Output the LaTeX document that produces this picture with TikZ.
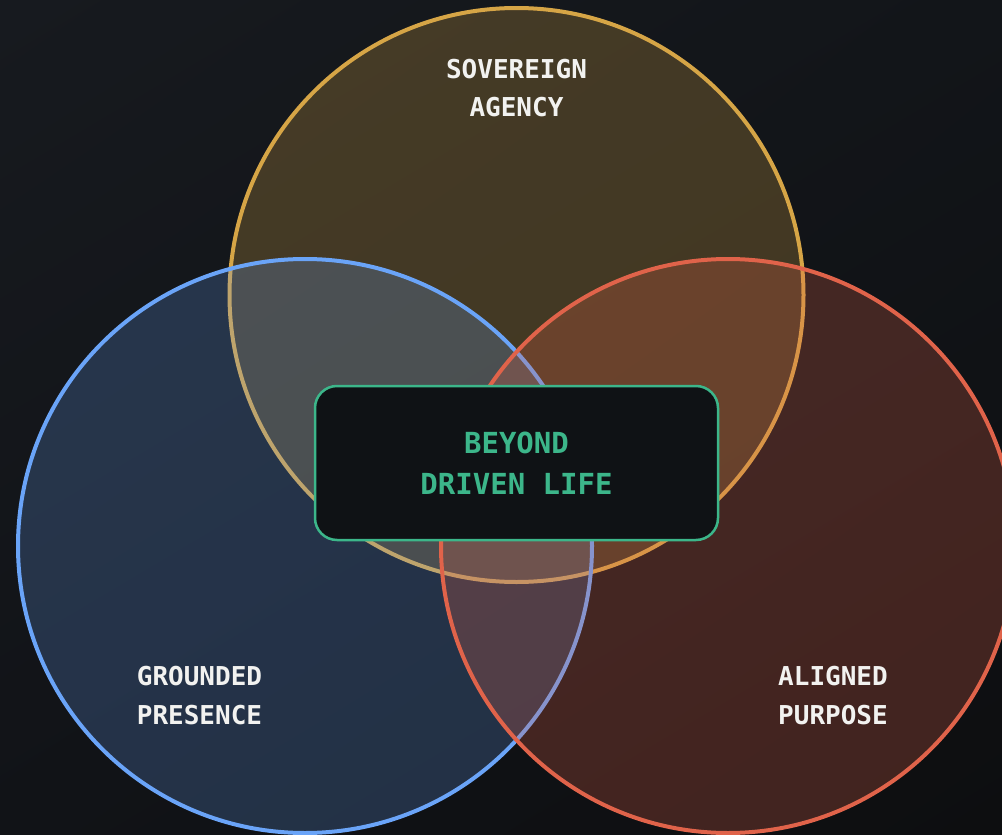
\documentclass[tikz,border=0pt]{standalone}
\usepackage{fontspec}
\usetikzlibrary{shadings}
\newfontfamily\labelfont{DejaVu Sans Mono}[BoldFont={DejaVu Sans Mono Bold}]
\definecolor{bgA}{HTML}{171A1F}
\definecolor{bgB}{HTML}{121519}
\definecolor{bgC}{HTML}{111317}
\definecolor{bgD}{HTML}{0D0E10}
\definecolor{goldc}{HTML}{D6A546}
\definecolor{bluec}{HTML}{6AA4F8}
\definecolor{redc}{HTML}{E0634A}
\definecolor{greenc}{HTML}{3CB68A}
\definecolor{boxfill}{HTML}{0F1215}
\definecolor{labelc}{HTML}{F2F2F0}
\tikzset{
  venn/.style={line width=4pt, fill opacity=0.25, draw opacity=1},
  lbl/.style={text=labelc, font=\labelfont\bfseries\fontsize{26}{38.5}\selectfont, align=center, inner sep=0pt},
  centerbox/.style={draw=greenc, line width=2.5pt, fill=boxfill, rounded corners=22pt, minimum width=403pt, minimum height=154pt, inner sep=0pt},
  centerlbl/.style={text=greenc, font=\labelfont\bfseries\fontsize{29}{41}\selectfont, align=center, inner sep=0pt}
}
\begin{document}
\begin{tikzpicture}[x=1pt,y=-1pt]
\useasboundingbox (0,0) rectangle (1002,835);
\clip (0,0) rectangle (1002,835);
\shade[upper left=bgA, upper right=bgB, lower left=bgC, lower right=bgD] (0,0) rectangle (1002,835);
\coordinate (cg) at (516.5,295);
\coordinate (cb) at (305,546);
\coordinate (cr) at (728,546);
\draw[venn, draw=goldc, fill=goldc] (cg) circle[radius=287];
\draw[venn, draw=bluec, fill=bluec, fill opacity=0.22] (cb) circle[radius=287];
\draw[venn, draw=redc, fill=redc] (cr) circle[radius=287];
\node[lbl] (sov) at (516.5,88) {SOVEREIGN\\AGENCY};
\node[lbl] (gro) at (199.5,695.5) {GROUNDED\\PRESENCE};
\node[lbl] (ali) at (833,695.5) {ALIGNED\\PURPOSE};
\node[centerbox] (box) at (516.5,463) {};
\node[centerlbl] (beyond) at (box.center) {BEYOND\\DRIVEN LIFE};
\end{tikzpicture}
\end{document}
